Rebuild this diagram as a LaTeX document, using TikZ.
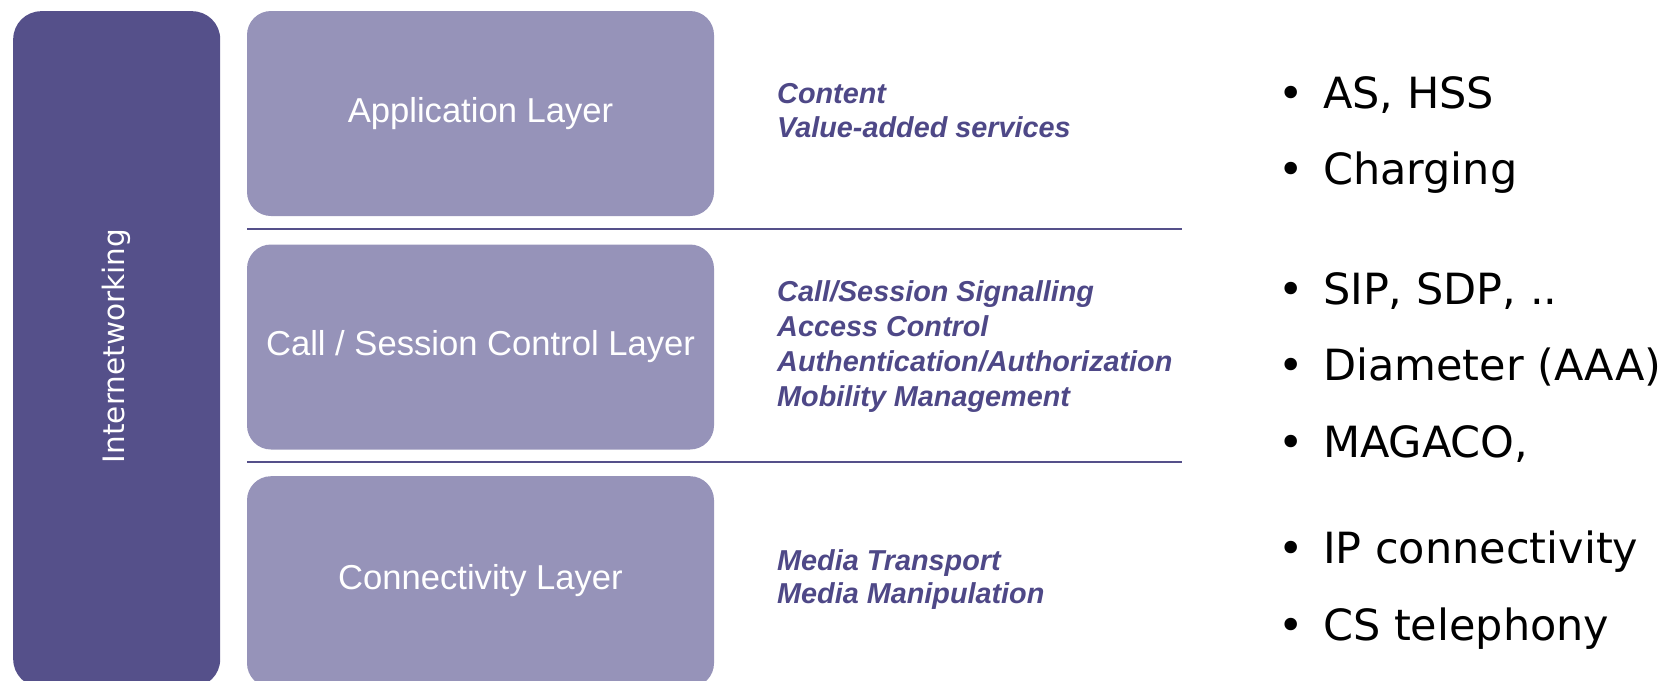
\documentclass[tikz,border=0pt]{standalone}
\usepackage{fontspec}
\setmainfont{Liberation Sans}
\newfontfamily\verdana{DejaVu Sans}
\definecolor{darkpurple}{HTML}{55508A}
\definecolor{lightpurple}{HTML}{9693B9}
\definecolor{textpurple}{HTML}{4E4887}

\begin{document}
\begin{tikzpicture}[x=1pt,y=-1pt,
  layer/.style={fill=lightpurple,rounded corners=24pt,minimum width=467pt,minimum height=205pt,inner sep=0pt,text=white,font=\fontsize{34.6}{40}\selectfont},
  duty/.style={anchor=base west,inner sep=0pt,text=textpurple,font=\fontsize{28.8}{34}\selectfont\bfseries\itshape},
  item/.style={anchor=base west,inner sep=0pt,font=\fontsize{43}{50}\selectfont\verdana}]
 \useasboundingbox (0,0) rectangle (1670,680);
 \clip (0,0) rectangle (1670,680);

 \node[fill=darkpurple,rounded corners=28pt,minimum width=207pt,minimum height=676pt,inner sep=0pt,anchor=north west] (iwk) at (13,11) {}; %left bar
 \node[rotate=90,text=white,font=\fontsize{29.5}{34}\selectfont\verdana] (iwktext) at (116.5,346) {Internetworking};

 \node[layer] (app) at (480.5,113.5) {Application Layer}; %layers
 \node[layer] (call) at (480.5,347) {Call / Session Control Layer};
 \node[layer,minimum height=211pt,anchor=north] (conn) at (480.5,476) {};
 \node[text=white,font=\fontsize{34.6}{40}\selectfont] (conntext) at (480.5,581) {Connectivity Layer};

 \draw[darkpurple,line width=2pt] (247,229)--(1182,229); %separators
 \draw[darkpurple,line width=2pt] (247,462)--(1182,462);

 \foreach \txt/\yy [count=\i] in {Content/103,{Value-added services}/137,
   {Call/Session Signalling}/301,{Access Control}/336,{Authentication/Authorization}/371,{Mobility Management}/406,
   {Media Transport}/570,{Media Manipulation}/603}
   \node[duty] (duty\i) at (777,\yy) {\txt};

 \foreach \txt/\yy [count=\i] in {{AS, HSS}/108,Charging/184,
   {SIP, SDP, ..}/304,{Diameter (AAA)}/380,{MAGACO,}/457,
   {IP connectivity}/563,{CS telephony}/640}
   \node[item] (item\i) at (1278.5,\yy) {•\hspace{19pt}\txt};
\end{tikzpicture}
\end{document}
